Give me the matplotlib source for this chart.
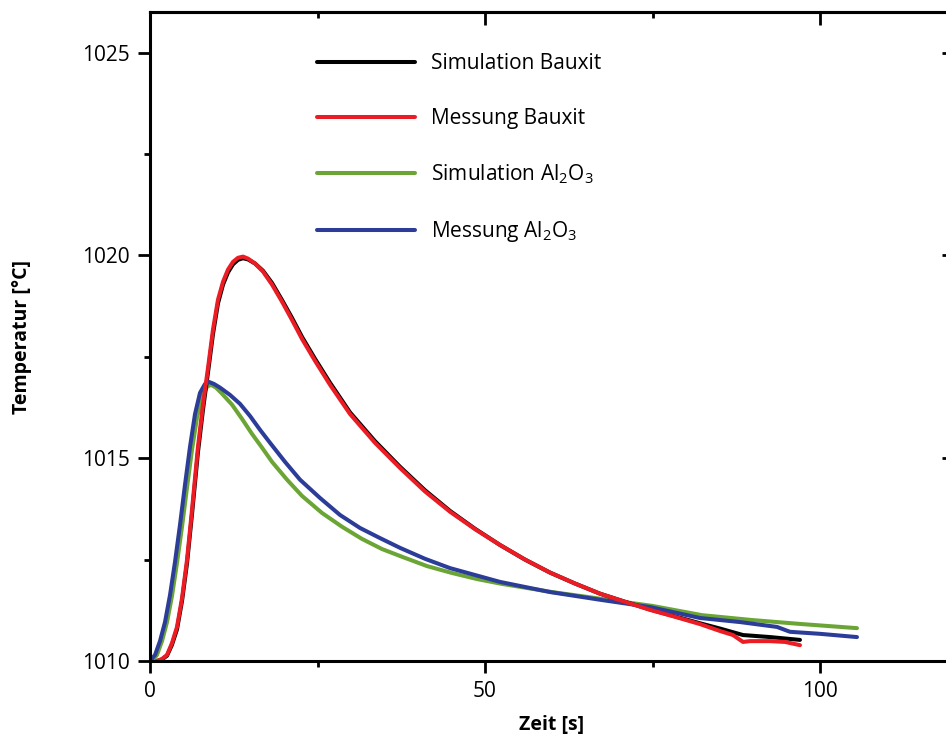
import matplotlib
matplotlib.use("Agg")
import matplotlib.pyplot as plt
from matplotlib.ticker import MultipleLocator, NullFormatter

plt.rcParams['font.family'] = ['Open Sans', 'DejaVu Sans']
plt.rcParams['mathtext.default'] = 'regular'

# Messung Bauxit (time in s, temperature in degC)
t_mess_bauxit = [1.04, 1.79, 2.54, 3.28, 4.03, 4.78, 5.52, 6.27, 7.16, 7.91, 8.66, 9.40,
                 10.15, 10.90, 11.64, 12.39, 13.13, 13.88, 14.63, 15.67, 16.87, 18.21,
                 19.70, 21.19, 22.69, 24.63, 26.87, 29.85, 33.58, 37.31, 41.04, 44.78,
                 48.51, 52.24, 55.97, 59.70, 63.43, 67.16, 70.90, 74.63, 78.36, 82.09,
                 85.07, 87.01, 88.51, 89.55, 92.54, 94.78, 97.01]
T_mess_bauxit = [1010.00, 1010.05, 1010.15, 1010.44, 1010.84, 1011.55, 1012.49, 1013.73,
                 1015.28, 1016.32, 1017.23, 1018.17, 1018.91, 1019.35, 1019.65, 1019.84,
                 1019.94, 1019.97, 1019.92, 1019.80, 1019.60, 1019.28, 1018.86, 1018.41,
                 1017.94, 1017.40, 1016.81, 1016.09, 1015.38, 1014.76, 1014.18, 1013.68,
                 1013.25, 1012.86, 1012.50, 1012.18, 1011.91, 1011.66, 1011.46, 1011.26,
                 1011.09, 1010.91, 1010.74, 1010.64, 1010.47, 1010.49, 1010.49, 1010.47,
                 1010.39]

# Simulation Bauxit
t_sim_bauxit = [1.04, 1.79, 2.54, 3.28, 4.03, 4.78, 5.52, 6.27, 7.16, 7.91, 8.66, 9.40,
                10.15, 10.90, 11.64, 12.39, 13.13, 13.88, 14.63, 15.67, 16.87, 18.21,
                19.70, 21.19, 22.69, 24.63, 26.87, 29.85, 33.58, 37.31, 41.04, 44.78,
                48.51, 52.24, 55.97, 59.70, 63.43, 67.16, 70.90, 74.63, 78.36, 82.09,
                85.07, 88.51, 92.54, 97.01]
T_sim_bauxit = [1010.00, 1010.04, 1010.13, 1010.40, 1010.78, 1011.48, 1012.40, 1013.62,
                1015.15, 1016.20, 1017.12, 1018.06, 1018.82, 1019.28, 1019.58, 1019.78,
                1019.89, 1019.93, 1019.90, 1019.80, 1019.62, 1019.32, 1018.90, 1018.46,
                1017.99, 1017.45, 1016.86, 1016.13, 1015.42, 1014.79, 1014.21, 1013.70,
                1013.26, 1012.86, 1012.50, 1012.18, 1011.91, 1011.66, 1011.46, 1011.27,
                1011.10, 1010.93, 1010.80, 1010.64, 1010.59, 1010.52]

# Simulation Al2O3
t_sim_al2o3 = [0.30, 1.04, 1.79, 2.54, 3.28, 4.03, 4.78, 5.52, 6.27, 7.01, 7.76, 8.51,
               9.10, 9.85, 10.75, 12.24, 13.73, 15.22, 16.72, 18.21, 20.45, 22.69, 25.67,
               28.66, 31.64, 34.63, 37.61, 41.34, 45.07, 48.81, 52.54, 60.00, 67.46, 74.93,
               82.39, 89.85, 97.31, 105.52]
T_sim_al2o3 = [1010.00, 1010.15, 1010.49, 1010.96, 1011.60, 1012.42, 1013.31, 1014.27,
               1015.21, 1016.00, 1016.51, 1016.76, 1016.81, 1016.74, 1016.59, 1016.32,
               1015.97, 1015.60, 1015.26, 1014.91, 1014.47, 1014.07, 1013.65, 1013.31,
               1013.01, 1012.76, 1012.57, 1012.34, 1012.17, 1012.02, 1011.90, 1011.70,
               1011.53, 1011.36, 1011.13, 1011.01, 1010.91, 1010.81]

# Messung Al2O3
t_mess_al2o3 = [0.00, 0.75, 1.49, 2.24, 2.99, 3.73, 4.48, 5.22, 5.97, 6.72, 7.46, 8.21,
                8.81, 9.55, 10.45, 11.94, 13.43, 14.93, 16.42, 17.91, 20.15, 22.39, 25.37,
                28.36, 31.34, 34.33, 37.31, 41.04, 44.78, 48.51, 52.24, 59.70, 67.16, 74.63,
                82.09, 88.06, 93.58, 95.52, 100.00, 105.52]
T_mess_al2o3 = [1010.00, 1010.15, 1010.49, 1010.96, 1011.63, 1012.44, 1013.36, 1014.34,
                1015.28, 1016.09, 1016.61, 1016.83, 1016.88, 1016.83, 1016.74, 1016.56,
                1016.34, 1016.04, 1015.70, 1015.38, 1014.91, 1014.47, 1014.02, 1013.60,
                1013.28, 1013.03, 1012.79, 1012.52, 1012.29, 1012.12, 1011.95, 1011.70,
                1011.51, 1011.33, 1011.06, 1010.96, 1010.84, 1010.72, 1010.67, 1010.59]

series = [
    (t_sim_bauxit, T_sim_bauxit, '#000000', 'Simulation Bauxit'),
    (t_mess_bauxit, T_mess_bauxit, '#ec1c24', 'Messung Bauxit'),
    (t_sim_al2o3, T_sim_al2o3, '#6aa535', 'Simulation Al$_2$O$_3$'),
    (t_mess_al2o3, T_mess_al2o3, '#2b3d98', 'Messung Al$_2$O$_3$'),
]

fig = plt.figure(figsize=(9.46, 7.35), dpi=100)
ax = fig.add_axes([150 / 946, 74 / 735, 804 / 946, 649 / 735])

# green and black go underneath the measured curves
order = [2, 0, 3, 1]
handles = {}
for i in order:
    t, T, c, lab = series[i]
    ln, = ax.plot(t, T, color=c, lw=2.9, solid_joinstyle='round',
                  solid_capstyle='round', label=lab)
    handles[i] = ln

ax.set_xlim(0, 120)
ax.set_ylim(1010, 1026)

ax.xaxis.set_major_locator(MultipleLocator(50))
ax.xaxis.set_minor_locator(MultipleLocator(25))
ax.yaxis.set_major_locator(MultipleLocator(5))
ax.yaxis.set_minor_locator(MultipleLocator(2.5))

for s in ax.spines.values():
    s.set_linewidth(2.2)

ax.tick_params(axis='both', which='major', direction='out', length=8.5, width=2.0,
               labelsize=15, pad=6, color='black')
ax.tick_params(axis='both', which='minor', direction='out', length=4, width=2.0)

# inward ticks on the top and right edges
top = ax.secondary_xaxis('top')
top.xaxis.set_major_locator(MultipleLocator(50))
top.xaxis.set_minor_locator(MultipleLocator(25))
top.xaxis.set_major_formatter(NullFormatter())
top.tick_params(which='major', direction='in', length=9, width=2.0)
top.tick_params(which='minor', direction='in', length=4.5, width=2.0)
top.spines['top'].set_linewidth(2.2)

right = ax.secondary_yaxis('right')
right.yaxis.set_major_locator(MultipleLocator(5))
right.yaxis.set_minor_locator(MultipleLocator(2.5))
right.yaxis.set_major_formatter(NullFormatter())
right.tick_params(which='major', direction='in', length=9, width=2.0)
right.tick_params(which='minor', direction='in', length=4.5, width=2.0)
right.spines['right'].set_linewidth(2.2)

ax.set_xlabel('Zeit [s]', fontsize=14, fontweight='bold', labelpad=9)
ax.set_ylabel('Temperatur [°C]', fontsize=14, fontweight='bold', labelpad=36)

leg = ax.legend([handles[i] for i in range(4)], [s[3] for s in series],
                loc='upper left', bbox_to_anchor=(0.185, 0.965), frameon=False,
                fontsize=15, handlelength=4.66, handletextpad=0.77, labelspacing=1.6)
for l in leg.get_lines():
    l.set_linewidth(2.9)

fig.savefig('out.png', dpi=100)
